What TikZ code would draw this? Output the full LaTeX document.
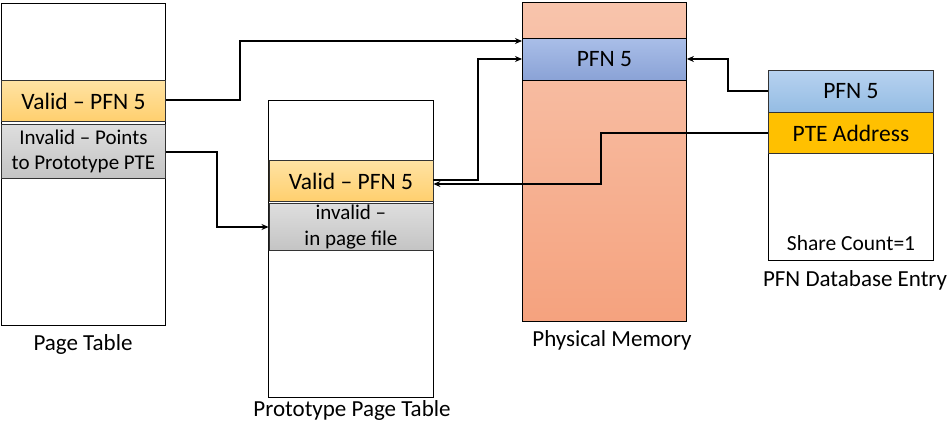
\documentclass[tikz,border=0pt]{standalone}
\usepackage{fontspec}
\setmainfont{Carlito}
\usetikzlibrary{arrows.meta}
\definecolor{orgT}{HTML}{FFE3A3}
\definecolor{orgB}{HTML}{FFCF6E}
\definecolor{grT}{HTML}{DEDEDE}
\definecolor{grB}{HTML}{C4C4C4}
\definecolor{memT}{HTML}{F8C4AC}
\definecolor{memB}{HTML}{F5A27E}
\definecolor{bluT}{HTML}{A9BEE8}
\definecolor{bluB}{HTML}{8AA2D6}
\definecolor{lbT}{HTML}{B7D2F0}
\definecolor{lbB}{HTML}{94BCE3}
\definecolor{pteC}{HTML}{FFC000}
\begin{document}
\begin{tikzpicture}[x=1pt,y=-1pt,
  tbl/.style={draw=black,line width=0.9pt,anchor=north west,inner sep=0pt},
  cell/.style={draw=black!80,line width=0.9pt,anchor=north west,inner sep=0pt,align=center,font=\fontsize{23.5}{26}\selectfont},
  two/.style={font=\fontsize{21}{25.5}\selectfont},
  lbl/.style={font=\fontsize{23}{25}\selectfont,inner sep=0pt},
  conn/.style={line width=1.2pt,-{Stealth[length=7pt,width=6pt]}}]
\useasboundingbox (0,0) rectangle (950,422);
% Page table
\node[tbl,minimum width=164,minimum height=322] (pt) at (1,3) {};
\node[cell,minimum width=164,minimum height=41,top color=orgT,bottom color=orgB] (ptv) at (1,80) {Valid -- PFN 5};
\node[cell,two,minimum width=164,minimum height=54,top color=grT,bottom color=grB] (pti) at (1,124) {Invalid -- Points\\to Prototype PTE};
\node[lbl] (ptl) at (83,344) {Page Table};
% Prototype page table
\node[tbl,minimum width=165,minimum height=297] (pp) at (268,100) {};
\node[cell,minimum width=164,minimum height=41,top color=orgT,bottom color=orgB] (ppv) at (268.5,160) {Valid -- PFN 5};
\node[cell,two,minimum width=164,minimum height=47,top color=grT,bottom color=grB] (ppi) at (268.5,203) {invalid --\\in page file};
\node[lbl] (ppl) at (352,410) {Prototype Page Table};
% Physical memory
\node[tbl,minimum width=164,minimum height=319,top color=memT,bottom color=memB] (pm) at (522,2) {};
\node[cell,minimum width=164,minimum height=42,top color=bluT,bottom color=bluB,draw=black] (pmv) at (522,38) {PFN 5};
\node[lbl] (pml) at (612,340) {Physical Memory};
% PFN database entry
\node[tbl,minimum width=165,minimum height=190] (db) at (768,70) {};
\node[cell,minimum width=165,minimum height=42,top color=lbT,bottom color=lbB] (dbp) at (768,70) {PFN 5};
\node[cell,minimum width=165,minimum height=41,fill=pteC] (dba) at (768,112) {PTE Address};
\node[font=\fontsize{21.5}{24}\selectfont,inner sep=0pt] (dbs) at (851,243) {Share Count=1};
\node[lbl] (dbl) at (855,280) {PFN Database Entry};
% connectors
\draw[conn] (ptv.east |- 0,100) -| (240,41) -- (pm.west |- 0,41);
\draw[conn] (pti.east |- 0,152) -| (217,227) -- (ppi.west |- 0,227);
\draw[conn] (ppv.east |- 0,180) -| (478,59) -- (pmv.west |- 0,59);
\draw[conn] (dba.west |- 0,133) -| (601,184) -- (ppv.east |- 0,184);
\draw[conn] (dbp.west |- 0,91) -| (728,59) -- (pmv.east |- 0,59);
\end{tikzpicture}
\end{document}
